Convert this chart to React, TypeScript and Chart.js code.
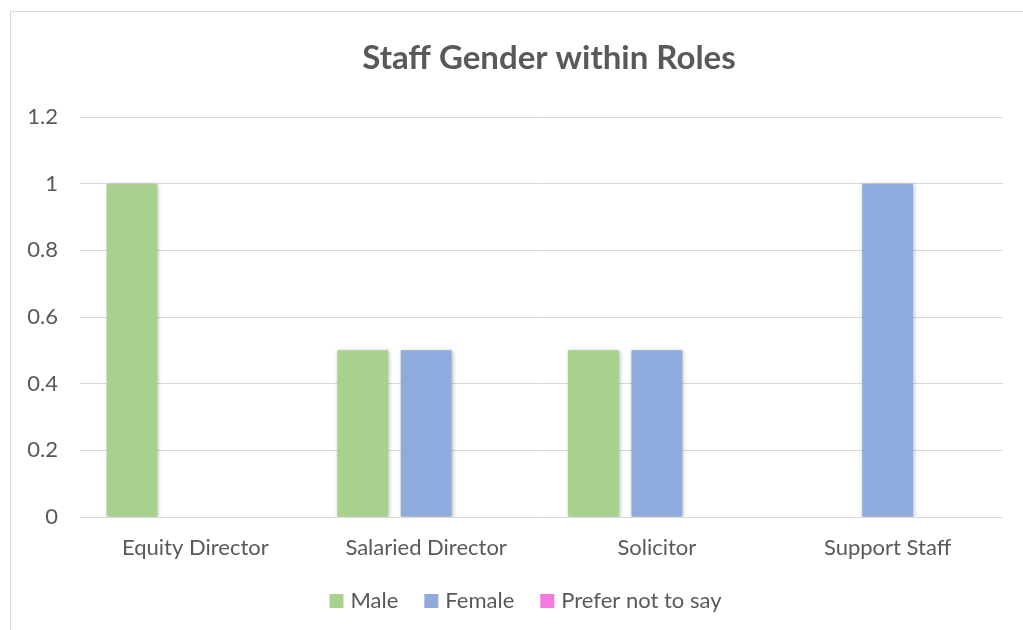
import React, { useEffect, useRef } from "react";
import { Chart, registerables } from "chart.js";

Chart.register(...registerables);

const categories = ["Equity Director", "Salaried Director", "Solicitor", "Support Staff"];
const seriesNames = ["Male", "Female", "Prefer not to say"];
const maleValues = [1, 0.5, 0.5, 0];
const femaleValues = [0, 0.5, 0.5, 1];
const preferValues = [0, 0, 0, 0];
const seriesColors = ["#A9D18E", "#8FAADC", "#F579DF"];
const titleText = "Staff Gender within Roles";

const FONT = "Lato, 'Open Sans', sans-serif";
const TEXT = "#595959";

const framePlugin = {
  id: "frame",
  beforeDraw(chart: any) {
    const ctx = chart.ctx;
    ctx.save();
    ctx.fillStyle = "#ffffff";
    ctx.fillRect(0, 0, chart.width, chart.height);
    ctx.strokeStyle = "#d9d9d9";
    ctx.lineWidth = 1;
    ctx.strokeRect(10.5, 11.5, 1100, 700);
    ctx.restore();
  },
  afterLayout(chart: any) {
    const lg = chart.legend;
    if (lg) {
      lg.left += 26;
      lg.right += 26;
    }
  },
  beforeDatasetsDraw(chart: any) {
    const ctx = chart.ctx;
    ctx.save();
    ctx.shadowColor = "rgba(0,0,0,0.28)";
    ctx.shadowBlur = 4;
    ctx.shadowOffsetX = 1;
    ctx.shadowOffsetY = 1;
  },
  afterDatasetsDraw(chart: any) {
    chart.ctx.restore();
  },
  afterDraw(chart: any) {
    const ctx = chart.ctx;
    ctx.save();
    ctx.fillStyle = TEXT;
    ctx.font = "bold 33px " + FONT;
    ctx.textAlign = "center";
    ctx.textBaseline = "middle";
    ctx.fillText(titleText, 549, 58);
    ctx.restore();
  },
};

export default function App() {
  const ref = useRef<HTMLCanvasElement | null>(null);
  useEffect(() => {
    document.body.style.margin = "0";
    document.body.style.overflow = "hidden";
    const values = [maleValues, femaleValues, preferValues];
    const chart = new Chart(ref.current as HTMLCanvasElement, {
      type: "bar",
      data: {
        labels: categories,
        datasets: seriesNames.map((name, i) => ({
          label: name,
          data: values[i],
          backgroundColor: seriesColors[i],
          borderWidth: 0,
          categoryPercentage: 0.825,
          barPercentage: 0.8,
        })),
      },
      options: {
        animation: false,
        responsive: false,
        layout: { padding: { left: 0, right: 20, top: 117, bottom: 8 } },
        plugins: {
          title: { display: false },
          legend: {
            position: "bottom",
            labels: {
              color: TEXT,
              font: { family: FONT, size: 22 },
              usePointStyle: true,
              pointStyle: "rect",
              boxWidth: 6,
              boxHeight: 14,
              padding: 30,
            },
          },
          tooltip: { enabled: false },
        },
        scales: {
          x: {
            grid: { display: false },
            border: { display: false },
            ticks: { color: TEXT, font: { family: FONT, size: 22 }, padding: 10 },
            afterFit(scale: any) {
              scale.height = 43;
            },
          },
          y: {
            min: 0,
            max: 1.2,
            ticks: {
              stepSize: 0.2,
              color: TEXT,
              font: { family: FONT, size: 22 },
              padding: 22,
              callback: (v: any) => String(Math.round(Number(v) * 10) / 10),
            },
            grid: { color: "#d9d9d9", drawTicks: false, lineWidth: 1 },
            border: { display: false },
            afterFit(scale: any) {
              scale.width = 80;
            },
          },
        },
      },
      plugins: [framePlugin],
    } as any);
    return () => chart.destroy();
  }, []);
  return (
    <div style={{ position: "fixed", left: 0, top: 0, width: 1023, height: 630 }}>
      <canvas ref={ref} width={1023} height={630} />
    </div>
  );
}
